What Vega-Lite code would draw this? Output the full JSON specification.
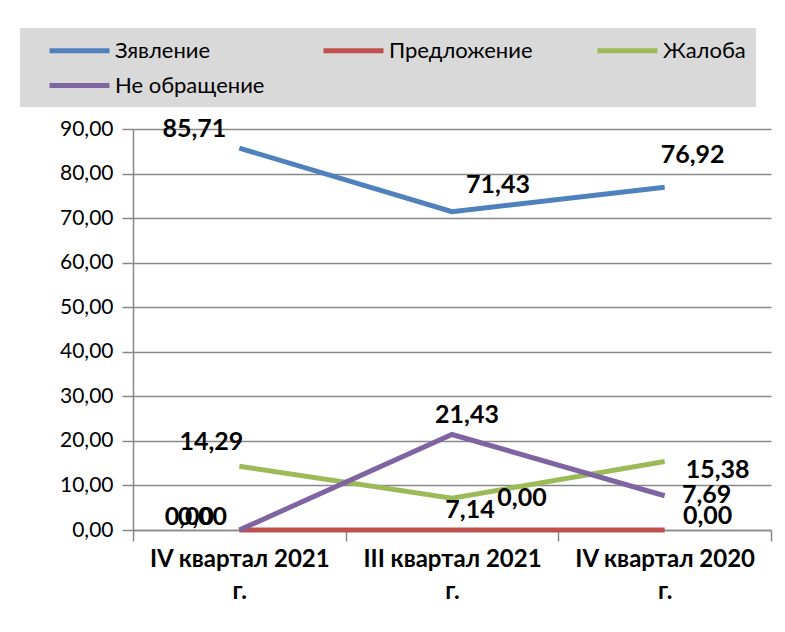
{
  "$schema": "https://vega.github.io/schema/vega-lite/v6.json",
  "width": 638,
  "height": 401,
  "autosize": {"type": "none"},
  "padding": {"left": 133, "top": 129, "right": 14, "bottom": 102},
  "background": "white",
  "config": {
    "font": "Lato",
    "view": {"stroke": null},
    "locale": {"number": {"decimal": ",", "thousands": " ", "grouping": [3], "currency": ["", " ₽"]}},
    "text": {"font": "Lato", "fontWeight": "bold", "fontSize": 25, "color": "black", "align": "center", "baseline": "middle"}
  },
  "data": {
    "values": [
      {"q": "IV квартал 2021 г.", "series": "Зявление", "value": 85.71},
      {"q": "III квартал 2021 г.", "series": "Зявление", "value": 71.43},
      {"q": "IV квартал 2020 г.", "series": "Зявление", "value": 76.92},
      {"q": "IV квартал 2021 г.", "series": "Предложение", "value": 0},
      {"q": "III квартал 2021 г.", "series": "Предложение", "value": 0},
      {"q": "IV квартал 2020 г.", "series": "Предложение", "value": 0},
      {"q": "IV квартал 2021 г.", "series": "Жалоба", "value": 14.29},
      {"q": "III квартал 2021 г.", "series": "Жалоба", "value": 7.14},
      {"q": "IV квартал 2020 г.", "series": "Жалоба", "value": 15.38},
      {"q": "IV квартал 2021 г.", "series": "Не обращение", "value": 0},
      {"q": "III квартал 2021 г.", "series": "Не обращение", "value": 21.43},
      {"q": "IV квартал 2020 г.", "series": "Не обращение", "value": 7.69}
    ]
  },
  "encoding": {
    "x": {
      "field": "q", "type": "nominal",
      "sort": ["IV квартал 2021 г.", "III квартал 2021 г.", "IV квартал 2020 г."],
      "bandPosition": 0.5,
      "scale": {"type": "band", "paddingInner": 0, "paddingOuter": 0},
      "axis": {
        "title": null, "tickBand": "extent", "labelAngle": 0, "grid": false,
        "labelFont": "Lato", "labelFontWeight": "bold", "labelFontSize": 24, "labelColor": "black",
        "labelExpr": "length(datum.label) > 3 ? [replace(datum.label, ' г.', ''), 'г.'] : ''",
        "labelLimit": 400, "labelOverlap": false,
        "labelLineHeight": 32, "labelPadding": 6,
        "tickSize": 11, "tickColor": "#888888", "domainColor": "#888888", "tickWidth": 1.5, "domainWidth": 1.5
      }
    },
    "y": {
      "field": "value", "type": "quantitative",
      "scale": {"domain": [0, 90], "nice": false},
      "axis": {
        "title": null, "values": [0, 10, 20, 30, 40, 50, 60, 70, 80, 90], "format": ".2f",
        "labelFont": "Lato", "labelFontSize": 21, "labelColor": "black", "labelPadding": 9,
        "tickSize": 11, "tickColor": "#888888", "domainColor": "#888888", "gridColor": "#888888",
        "tickWidth": 1.5, "domainWidth": 1.5, "gridWidth": 1.5
      }
    }
  },
  "layer": [
    {
      "mark": {"type": "line", "strokeWidth": 5, "strokeCap": "butt"},
      "encoding": {
        "color": {
          "field": "series", "type": "nominal",
          "scale": {"domain": ["Зявление", "Предложение", "Жалоба", "Не обращение"], "range": ["#4f81bd", "#c0504d", "#9bbb59", "#8064a2"]},
          "legend": {
            "orient": "none", "legendX": -113, "legendY": -101,
            "direction": "horizontal", "columns": 3, "gridAlign": "all",
            "fillColor": "#d9d9d9", "padding": 10,
            "title": " ", "titleOrient": "left", "titlePadding": 17, "titleFontSize": 1,
            "symbolType": "M-3,0H3", "symbolSize": 400, "symbolStrokeWidth": 5, "symbolOffset": 20,
            "labelFont": "Lato", "labelFontSize": 22, "labelColor": "black", "labelOffset": 23,
            "labelExpr": "datum.label == 'Жалоба' ? datum.label + '\u2003\u2003\u2003' : datum.label",
            "columnPadding": 48, "rowPadding": 11, "labelLimit": 400
          }
        }
      }
    },
    {"transform": [{"filter": "datum.series == 'Зявление' && datum.q == 'IV квартал 2021 г.'"}], "mark": {"type": "text", "dx": -45, "dy": -19}, "encoding": {"text": {"field": "value", "type": "quantitative", "format": ".2f"}}},
    {"transform": [{"filter": "datum.series == 'Зявление' && datum.q == 'III квартал 2021 г.'"}], "mark": {"type": "text", "dx": 46, "dy": -27}, "encoding": {"text": {"field": "value", "type": "quantitative", "format": ".2f"}}},
    {"transform": [{"filter": "datum.series == 'Зявление' && datum.q == 'IV квартал 2020 г.'"}], "mark": {"type": "text", "dx": 28, "dy": -32}, "encoding": {"text": {"field": "value", "type": "quantitative", "format": ".2f"}}},
    {"transform": [{"filter": "datum.series == 'Жалоба' && datum.q == 'IV квартал 2021 г.'"}], "mark": {"type": "text", "dx": -28, "dy": -24}, "encoding": {"text": {"field": "value", "type": "quantitative", "format": ".2f"}}},
    {"transform": [{"filter": "datum.series == 'Жалоба' && datum.q == 'III квартал 2021 г.'"}], "mark": {"type": "text", "dx": 18, "dy": 12}, "encoding": {"text": {"field": "value", "type": "quantitative", "format": ".2f"}}},
    {"transform": [{"filter": "datum.series == 'Жалоба' && datum.q == 'IV квартал 2020 г.'"}], "mark": {"type": "text", "dx": 53, "dy": 9}, "encoding": {"text": {"field": "value", "type": "quantitative", "format": ".2f"}}},
    {"transform": [{"filter": "datum.series == 'Предложение' && datum.q == 'IV квартал 2021 г.'"}], "mark": {"type": "text", "dx": -50, "dy": -13}, "encoding": {"text": {"field": "value", "type": "quantitative", "format": ".2f"}}},
    {"transform": [{"filter": "datum.series == 'Предложение' && datum.q == 'III квартал 2021 г.'"}], "mark": {"type": "text", "dx": 70, "dy": -32}, "encoding": {"text": {"field": "value", "type": "quantitative", "format": ".2f"}}},
    {"transform": [{"filter": "datum.series == 'Предложение' && datum.q == 'IV квартал 2020 г.'"}], "mark": {"type": "text", "dx": 43, "dy": -14}, "encoding": {"text": {"field": "value", "type": "quantitative", "format": ".2f"}}},
    {"transform": [{"filter": "datum.series == 'Не обращение' && datum.q == 'IV квартал 2021 г.'"}], "mark": {"type": "text", "dx": -37, "dy": -13}, "encoding": {"text": {"field": "value", "type": "quantitative", "format": ".2f"}}},
    {"transform": [{"filter": "datum.series == 'Не обращение' && datum.q == 'III квартал 2021 г.'"}], "mark": {"type": "text", "dx": 15, "dy": -20}, "encoding": {"text": {"field": "value", "type": "quantitative", "format": ".2f"}}},
    {"transform": [{"filter": "datum.series == 'Не обращение' && datum.q == 'IV квартал 2020 г.'"}], "mark": {"type": "text", "dx": 42, "dy": -1}, "encoding": {"text": {"field": "value", "type": "quantitative", "format": ".2f"}}}
  ]
}
